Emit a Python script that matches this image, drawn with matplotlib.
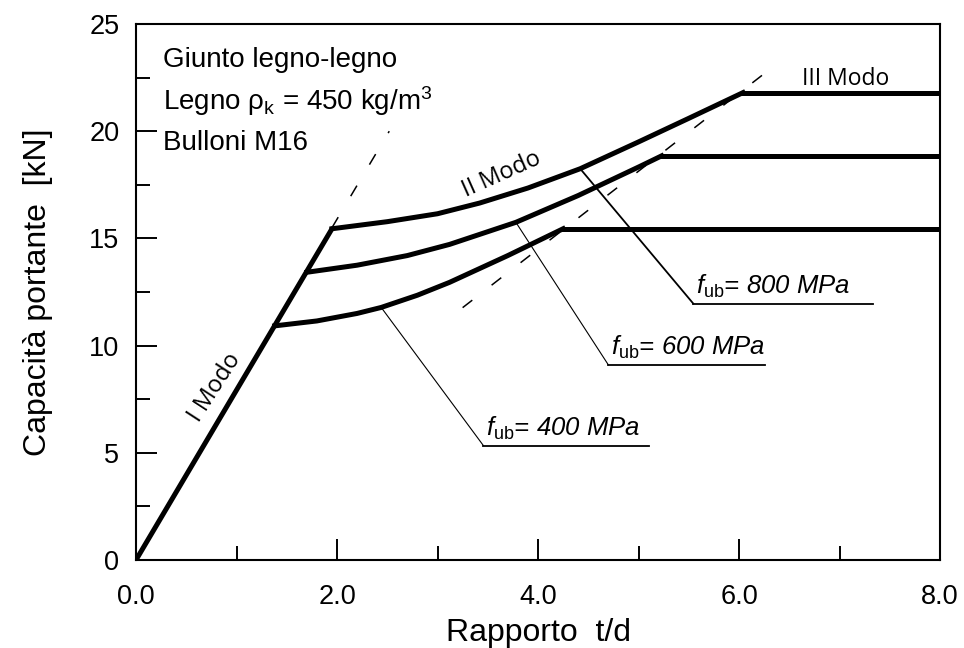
import numpy as np
import matplotlib
matplotlib.use("Agg")
import matplotlib.pyplot as plt
from matplotlib.ticker import MultipleLocator, FormatStrFormatter

plt.rcParams['font.family'] = ['Liberation Sans', 'DejaVu Sans']
plt.rcParams['mathtext.fontset'] = 'custom'
plt.rcParams['mathtext.rm'] = 'Liberation Sans'
plt.rcParams['mathtext.it'] = 'Liberation Sans:italic'
plt.rcParams['mathtext.bf'] = 'Liberation Sans:bold'

# Mode I (embedment of timber) - straight line
mode1_x = [0.0, 1.95]
mode1_y = [0.0, 15.45]

# Mode II curves (one bolt grade each)
x800 = [1.95, 2.5, 3.0, 3.42, 3.9, 4.42, 5.0, 5.5, 6.04]
y800 = [15.45, 15.78, 16.15, 16.65, 17.35, 18.25, 19.5, 20.6, 21.8]
x600 = [1.70, 2.2, 2.7, 3.12, 3.78, 4.4, 5.01, 5.23]
y600 = [13.42, 13.75, 14.2, 14.72, 15.75, 17.0, 18.35, 18.85]
x400 = [1.38, 1.8, 2.2, 2.44, 2.8, 3.12, 3.7, 4.25]
y400 = [10.92, 11.15, 11.5, 11.78, 12.35, 12.95, 14.2, 15.45]

# Mode III plateaus (end of each curve to x = 8)
plateau_x_end = 8.0

# dashed guide lines
guide1_x = [1.95, 2.52]
guide1_y = [15.5, 20.0]
guide3_x = [3.25, 6.42]
guide3_y = [11.77, 23.3]

grades = ["800", "600", "400"]

fig = plt.figure(figsize=(9.64, 6.48), dpi=100)
ax = fig.add_axes((136 / 964, 88 / 648, 804 / 964, 536 / 648))

lw = 3.6
ax.plot(mode1_x, mode1_y, 'k-', lw=lw, solid_capstyle='round')
for xs, ys in ((x800, y800), (x600, y600), (x400, y400)):
    ax.plot(xs, ys, 'k-', lw=lw, solid_joinstyle='round')
    ax.plot([xs[-1], plateau_x_end], [ys[-1], ys[-1]], 'k-', lw=lw)

ax.plot(guide1_x, guide1_y, 'k-', lw=1.1, dashes=(8, 16))
ax.plot(guide3_x, guide3_y, 'k-', lw=1.1, dashes=(8, 16))

# leader lines to the labels: (curve point, label anchor, underline end, lw)
leaders = [
    ((x800[5], y800[5]), (5.545, 11.96), 7.336, 1.3),
    ((x600[4], y600[4]), (4.70, 9.10), 6.26, 0.8),
    ((x400[3], y400[3]), (3.456, 5.34), 5.10, 0.8),
]
for g, (p0, p1, xend, llw) in zip(grades, leaders):
    ax.plot([p0[0], p1[0]], [p0[1], p1[1]], 'k-', lw=llw)
    ax.plot([p1[0], xend], [p1[1], p1[1]], 'k-', lw=1.3)
    ax.text(p1[0] + 0.03, p1[1] + 0.45, r"$f_{\mathrm{ub}}$= %s MPa" % g,
            fontsize=18.5, style='italic', ha='left', va='baseline')

mode_font = ['Open Sans', 'DejaVu Sans']
ax.text(0.79, 8.05, "I Modo", family=mode_font, fontsize=17, rotation=57,
        ha='center', va='center', rotation_mode='anchor')
ax.text(3.64, 17.98, "II Modo", family=mode_font, fontsize=17, rotation=24,
        ha='center', va='center', rotation_mode='anchor')
ax.text(6.63, 22.17, "III Modo", family=mode_font, fontsize=16.5,
        ha='left', va='baseline')

ax.text(0.27, 23.0, "Giunto legno-legno", fontsize=20, va='baseline')
ax.text(0.27, 21.0, "Legno ρ$_{\\mathrm{k}}$ = 450 kg/m$^{3}$", fontsize=20, va='baseline')
ax.text(0.27, 19.1, "Bulloni M16", fontsize=20, va='baseline')

ax.set_xlim(0, 8)
ax.set_ylim(0, 25)
ax.xaxis.set_major_locator(MultipleLocator(2))
ax.xaxis.set_minor_locator(MultipleLocator(1))
ax.yaxis.set_major_locator(MultipleLocator(5))
ax.yaxis.set_minor_locator(MultipleLocator(2.5))
ax.xaxis.set_major_formatter(FormatStrFormatter('%.1f'))
ax.yaxis.set_major_formatter(FormatStrFormatter('%d'))
ax.tick_params(which='both', direction='in', top=False, right=False, width=1.4,
               labelsize=19.5)
ax.tick_params(which='major', length=15)
ax.tick_params(which='minor', length=10)
ax.tick_params(axis='x', which='major', pad=17)
ax.tick_params(axis='y', which='major', pad=12)
for s in ax.spines.values():
    s.set_linewidth(1.5)

ax.set_xlabel("Rapporto  t/d", fontsize=23, labelpad=6)
ax.set_ylabel("Capacità portante  [kN]", fontsize=23, labelpad=26)

fig.savefig("out.png", dpi=100)
